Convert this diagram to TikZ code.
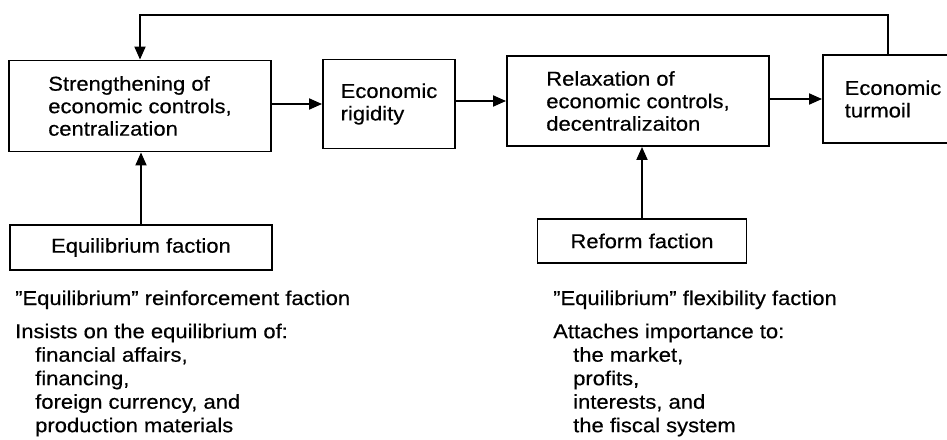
\documentclass[tikz,border=0pt]{standalone}
\usepackage{fontspec}
\setmainfont{Liberation Sans}[FakeStretch=1.1,FakeBold=0.4,Ligatures=TeX]
\usetikzlibrary{arrows.meta}
\begin{document}
\begin{tikzpicture}[x=1pt,y=-1pt,
  box/.style={draw,line width=1.9pt,align=left,inner sep=0pt,font=\fontsize{20}{22.5}\selectfont},
  arr/.style={line width=1.9pt,-{Triangle[length=13pt,width=11pt]}},
  txt/.style={align=left,inner sep=0pt,font=\fontsize{20}{23.5}\selectfont,anchor=base west},
  blk/.style={align=left,inner sep=0pt,font=\fontsize{20}{23.5}\selectfont,anchor=north west}]
\useasboundingbox (0,0) rectangle (947,439);
\fill[white] (0,0) rectangle (947,439);
\clip (0,0) rectangle (947,439);
% top row
\node[box,minimum width=262pt,minimum height=91pt] (A) at (140,106)
  {Strengthening of\\economic controls,\\centralization};
\node[box,minimum width=132pt,minimum height=89pt] (B) at (389,104)
  {Economic\\rigidity};
\node[box,minimum width=262pt,minimum height=90pt] (C) at (638,101)
  {Relaxation of\\economic controls,\\decentralizaiton};
\node[box,minimum width=140pt,minimum height=88pt] (D) at (893,99)
  {Economic\\turmoil};
% faction boxes
\node[box,align=center,minimum width=262pt,minimum height=45pt] (E) at (141,247.5)
  {Equilibrium faction};
\node[box,align=center,minimum width=209pt,minimum height=44pt] (F) at (642,241)
  {Reform faction};
% connectors
\draw[arr] (A.east |- B.west) -- (B.west);
\draw[arr] (B.east |- C.west) -- (C.west);
\draw[arr] (C.east |- D.west) -- (D.west);
\draw[arr] (E.north) -- (E.north |- A.south);
\draw[arr] (F.north) -- (F.north |- C.south);
\coordinate (tr) at (888,15);
\coordinate (tl) at (140,15);
\draw[arr] (D.north -| tr) -- (tr) -- (tl) -- (A.north);
% descriptions
\node[txt] (Lt) at (15,305) {''Equilibrium'' reinforcement faction};
\node[blk] (Ll) at (15,323.5) {Insists on the equilibrium of:\\
  \hspace*{20pt}financial affairs,\\
  \hspace*{20pt}financing,\\
  \hspace*{20pt}foreign currency, and\\
  \hspace*{20pt}production materials};
\node[txt] (Rt) at (553,305) {''Equilibrium'' flexibility faction};
\node[blk] (Rl) at (553,323.5) {Attaches importance to:\\
  \hspace*{20pt}the market,\\
  \hspace*{20pt}profits,\\
  \hspace*{20pt}interests, and\\
  \hspace*{20pt}the fiscal system};
\end{tikzpicture}
\end{document}
